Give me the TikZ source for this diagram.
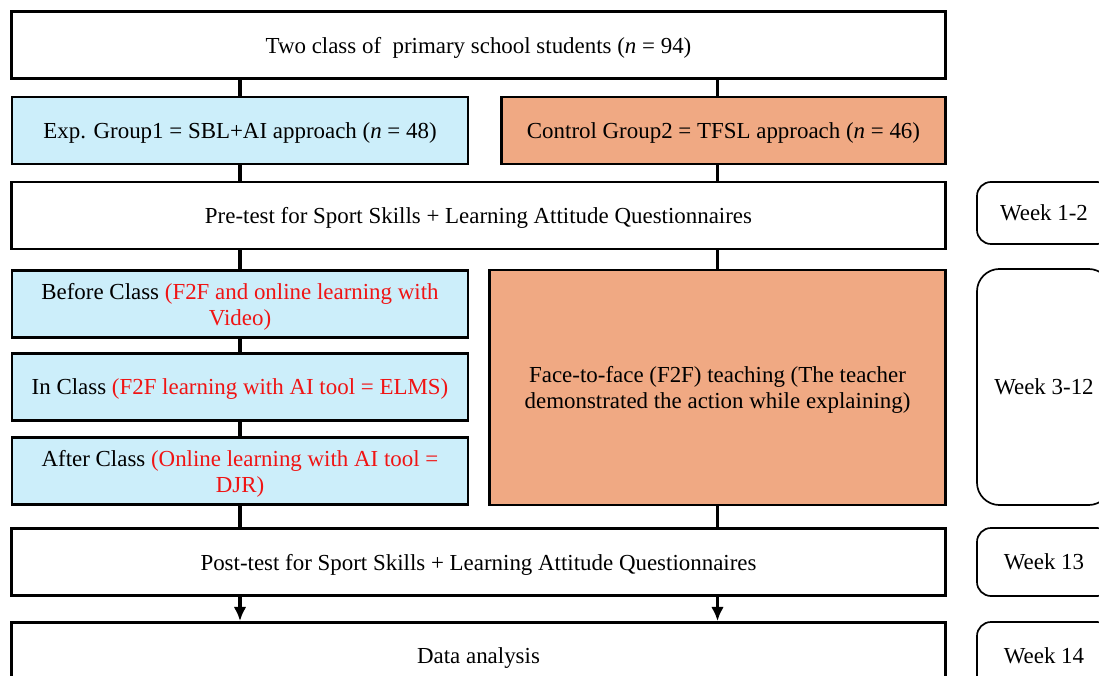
\documentclass[tikz,border=0pt]{standalone}
\usepackage{fontspec}
\usetikzlibrary{arrows.meta}
\setmainfont{Liberation Serif}
\definecolor{expblue}{RGB}{204,238,250}
\definecolor{ctrlorange}{RGB}{240,169,131}
\definecolor{notered}{RGB}{240,20,20}
\begin{document}
\begin{tikzpicture}
  [x=0.025cm,y=-0.025cm,
   box/.style={rectangle,draw,line width=1.9pt,inner sep=2pt,align=center,
     text depth=0pt,font=\fontsize{16.3}{18.5}\selectfont},
   wide/.style={box,minimum width=23.35cm,minimum height=1.68cm},
   half/.style={box,minimum width=11.4cm,minimum height=1.68cm},
   expbox/.style={half,fill=expblue},
   week/.style={rectangle,draw,line width=1.2pt,rounded corners=10pt,
     minimum width=3.35cm,text depth=0pt,font=\fontsize{16.3}{18.5}\selectfont},
   link/.style={line width=2.5pt}]
  \useasboundingbox (0,0) rectangle (1099,676);

  \node (top) at (478.5,45) [wide]
    {Two class of~ primary school students (\textit{n} = 94)};
  \node (exp) at (240,130.5) [expbox] {Exp. Group1 = SBL+AI approach (\textit{n} = 48)};
  \node (ctrl) at (723.5,130.5) [half,minimum width=11.1cm,fill=ctrlorange]
    {Control Group2 = TFSL approach (\textit{n} = 46)};
  \node (pre) at (478.5,215.5) [wide]
    {Pre-test for Sport Skills + Learning Attitude Questionnaires};

  \node (before) at (240,304) [expbox]
    {Before Class \textcolor{notered}{(F2F and online learning with}\\
     \textcolor{notered}{Video)}};
  \node (inclass) at (240,387) [expbox]
    {In Class \textcolor{notered}{(F2F learning with AI tool = ELMS)}};
  \node (after) at (240,471) [expbox]
    {After Class \textcolor{notered}{(Online learning with AI tool =}\\
     \textcolor{notered}{DJR)}};
  \node (f2f) at (717.5,387.5) [box,minimum width=11.4cm,minimum height=5.87cm,fill=ctrlorange]
    {Face-to-face (F2F) teaching (The teacher\\
     demonstrated the action while explaining)};

  \node (post) at (478.5,562) [wide]
    {Post-test for Sport Skills + Learning Attitude Questionnaires};
  \node (data) at (478.5,656) [wide] {Data analysis};

  \node (wk12) at (1044,213) [week,minimum height=1.55cm] {Week 1-2};
  \node (wk312) at (1044,387) [week,minimum height=5.9cm,rounded corners=16pt] {Week 3-12};
  \node (wk13) at (1044,562) [week,minimum height=1.7cm] {Week 13};
  \node (wk14) at (1044,656) [week,minimum height=1.7cm] {Week 14};

  \draw [link] (top.south -| exp) to (exp);
  \draw [link] (top.south -| f2f) to (ctrl.north -| f2f);
  \draw [link] (exp) to (pre.north -| exp);
  \draw [link] (ctrl.south -| f2f) to (pre.north -| f2f);
  \draw [link] (pre.south -| before) to (before);
  \draw [link] (pre.south -| f2f) to (f2f);
  \draw [link] (before) to (inclass);
  \draw [link] (inclass) to (after);
  \draw [link] (after) to (post.north -| after);
  \draw [link] (f2f) to (post.north -| f2f);
  \draw [link,-{Latex[length=10pt,width=9pt]}] (post.south -| after) to (data.north -| after);
  \draw [link,-{Latex[length=10pt,width=9pt]}] (post.south -| f2f) to (data.north -| f2f);
\end{tikzpicture}
\end{document}
